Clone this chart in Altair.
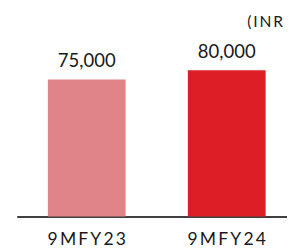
import altair as alt
import pandas as pd

categories = ["9MFY23", "9MFY24"]
values = [75000, 80000]
value_labels = ["75,000", "80,000"]
bar_colors = ["#E08488", "#DC1F26"]
unit_note = "(INR"

SP = "\u2009"
def spaced(s):
    return SP.join(list(s))

df = pd.DataFrame({
    "cat": [spaced(c) for c in categories],
    "value": values,
    "label": value_labels,
    "color": bar_colors,
})

FONT = "Lato"
xscale = alt.Scale(paddingInner=0.4444, paddingOuter=0.2222)
x = alt.X("cat:N", sort=None, title=None, scale=xscale,
          axis=alt.Axis(labelAngle=0, ticks=False, domainColor="#000000", domainWidth=1.5,
                        labelFont=FONT, labelFontSize=18, labelColor="#1a1a1a",
                        labelPadding=15, grid=False))
y = alt.Y("value:Q", scale=alt.Scale(domain=[0, 100000]), axis=None)

bars = alt.Chart(df).mark_bar().encode(
    x=x, y=y, color=alt.Color("color:N", scale=None)
)
text = alt.Chart(df).mark_text(font=FONT, fontSize=19, color="#1a1a1a",
                               baseline="bottom", dy=-9).encode(
    x=alt.X("cat:N", sort=None, scale=xscale), y="value:Q", text="label:N"
)

chart = alt.layer(bars, text).properties(
    width=288, height=188,
    autosize=alt.AutoSizeParams(type="none"),
    padding={"left": 9, "top": 23, "right": -10, "bottom": 30},
    title=alt.TitleParams(spaced(unit_note), anchor="end", font=FONT, fontSize=16,
                          fontWeight="normal", color="#1a1a1a", dx=-14, offset=4),
).configure(background="white", view=alt.ViewConfig(stroke="transparent"))

chart.save("out.html", embed_options={"renderer": "svg", "actions": False})
